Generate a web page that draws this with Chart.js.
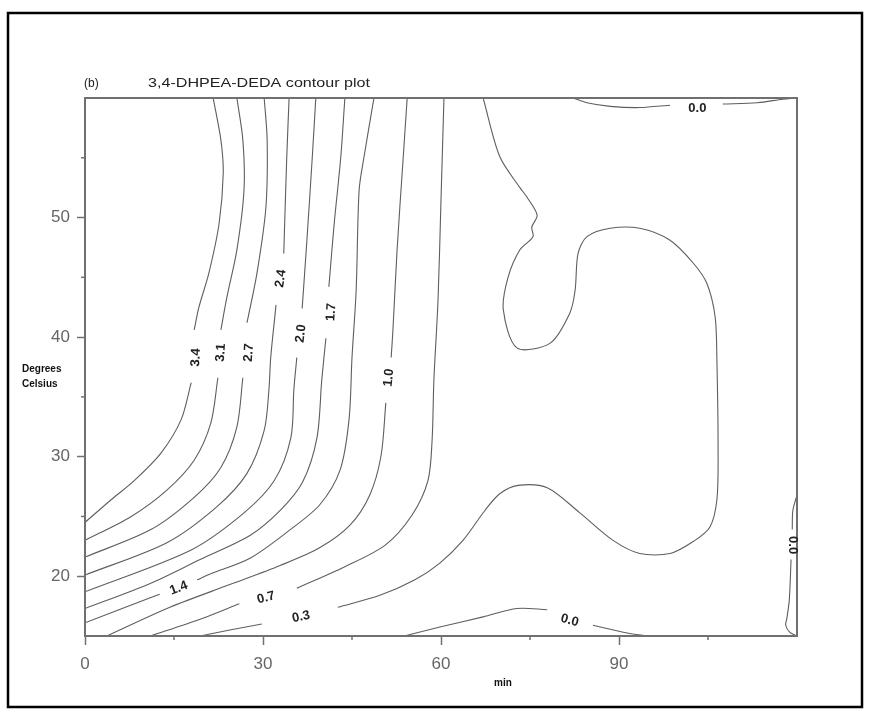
<!DOCTYPE html>
<html lang="en">
<head>
    <meta charset="UTF-8">
    <title>3,4-DHPEA-DEDA contour plot</title>
    <style>
        body, html {
            margin: 0;
            padding: 0;
            background-color: #ffffff;
        }
        #wrap {
            position: relative;
            width: 872px;
            height: 720px;
        }
    </style>
</head>
<body>
    <div id="wrap"><canvas id="contourChart" width="872" height="720"></canvas></div>

    <script src="https://cdn.jsdelivr.net/npm/chart.js"></script>
    <script>
        // contour lines, [min, degrees]; null = gap where the level label sits
        const c34 = [[21.6, 60], [22.9, 56.5], [23.3, 53.7], [22.6, 49.5], [20.9, 45.4], [19.2, 42.5], [18.4, 40.6], null,
            [17.9, 36.2], [16.2, 33.1], [12.8, 30.3], [8.3, 28.0], [4.4, 26.4], [0, 24.5]];
        const c31 = [[25.6, 60], [26.6, 56.5], [26.8, 52.3], [25.6, 47.3], [23.9, 43.3], [22.9, 40.6], null,
            [22.4, 36.6], [21.2, 32.8], [18.4, 29.7], [13.8, 27.2], [7.8, 25.0], [0, 23.0]];
        const c27 = [[30.2, 60], [30.7, 56.5], [30.5, 50.9], [29.0, 45.4], [27.3, 41.2], null,
            [26.6, 36.6], [25.6, 32.5], [22.9, 29.1], [18.4, 26.6], [11.1, 23.9], [0, 21.6]];
        const c24 = [[34.4, 60], [34.0, 55.0], [33.5, 47.0], null,
            [32.2, 42.7], [31.3, 38.3], [31.0, 35.6], [30.2, 32.2], [27.3, 28.6], [22.2, 25.8], [13.8, 22.8], [0, 20.1]];
        const c20 = [[38.9, 60], [38.3, 55.0], [37.4, 48.1], [36.6, 42.4], null,
            [35.7, 38.3], [35.2, 35.6], [34.7, 31.6], [31.9, 28.0], [26.8, 25.3], [17.9, 22.2], [0, 18.7]];
        const c17 = [[43.8, 60], [43.1, 55.0], [42.0, 49.5], [41.1, 44.2], null,
            [40.6, 39.9], [39.9, 36.4], [39.1, 31.6], [36.7, 27.9], [32.9, 25.5], [27.8, 23.4], [19.4, 21.4], [11.0, 19.4], [0, 17.3]];
        const c14 = [[48.7, 60], [47.0, 55.0], [46.2, 52.3], [45.7, 43.9], [45.0, 38.3], [44.5, 33.1], [43.0, 28.9],
            [39.6, 26.0], [34.6, 23.9], [27.8, 21.5], [21.2, 20.2], [18.9, 19.7], null,
            [12.6, 18.5], [11.0, 18.2], [0, 16.1]];
        const c10 = [[54.3, 60], [53.6, 54.8], [52.6, 47.3], [51.9, 40.6], [51.6, 38.3], null,
            [50.7, 34.5], [49.9, 30.1], [48.0, 26.8], [44.7, 24.3], [39.6, 22.4], [32.9, 20.9], [24.4, 19.3], [14.3, 17.4], [3.7, 15]];
        const c07 = [[60.5, 60], [60.0, 51.5], [59.5, 43.1], [58.8, 36.4], [58.5, 31.4], [57.8, 28.0], [55.1, 25.1],
            [50.6, 22.6], [43.8, 20.8], [35.7, 19.0], null,
            [26.0, 17.7], [19.4, 16.4], [11.0, 15]];
        const c03 = [[19.4, 15], [24.4, 15.5], [29.8, 16.0], null,
            [42.6, 17.4], [49.7, 18.4], [55.6, 19.7], [59.8, 21.1], [63.7, 23.0], [67.4, 25.5], [69.9, 26.9], [73.0, 27.6],
            [77.9, 27.4], [83.4, 25.3], [89.0, 23.0], [93.5, 21.9], [98.6, 21.9], [102.5, 22.9], [105.3, 24.1], [106.5, 26.4],
            [106.7, 30.6], [106.5, 38.1], [106.2, 41.7], [104.8, 44.5], [102.5, 46.2], [98.6, 48.1], [93.5, 49.1], [88.5, 49.1],
            [84.6, 48.4], [83.1, 47.0], [82.6, 43.9], [81.7, 42.0], [78.4, 39.5], [72.8, 39.1], [70.5, 42.3], [71.3, 45.0],
            [73.3, 47.3], [75.5, 48.4], [75.3, 49.2], [76.2, 50.2], [74.5, 51.7], [73.3, 52.5], [69.9, 55.1], [67.1, 60]];
        const c00bottom = [[53.8, 15], [59.8, 15.75], [67.1, 16.6], [72.8, 17.3], [77.9, 17.2], null,
            [85.6, 15.9], [91.4, 15.25], [94.7, 15]];
        const c00top = [[82.3, 60], [84.6, 59.6], [88.5, 59.3], [93.5, 59.2], [98.6, 59.4], null,
            [107.5, 59.5], [113.3, 59.6], [117.6, 59.9], [119.7, 60]];
        const c00right = [[120, 26.8], [119.3, 25.5], [119.2, 23.9], null,
            [119.0, 21.4], [118.7, 18.0], [118.3, 16.5], [118.1, 15.9], [118.8, 15.3], [120, 15]];

        const contours = [c34, c31, c27, c24, c20, c17, c14, c10, c07, c03, c00bottom, c00top, c00right];

        // level labels written on the lines
        const labelText = ['3.4', '3.1', '2.7', '2.4', '2.0', '1.7', '1.0', '1.4', '0.7', '0.3', '0.0', '0.0', '0.0'];
        const labelX = [18.7, 22.9, 27.6, 33.0, 36.4, 41.5, 51.2, 15.8, 30.5, 36.4, 81.7, 103.2, 119.3];
        const labelY = [38.3, 38.7, 38.7, 44.9, 40.3, 42.1, 36.6, 19.0, 18.2, 16.6, 16.3, 59.15, 22.6];
        const labelAngle = [-87, -86, -86, -81, -84, -87, -84, -21, -15, -12, 15, 0, 90];

        // axes
        const xTickLabels = [0, 30, 60, 90];
        const yTickLabels = [20, 30, 40, 50];
        const xMinor = [15, 45, 75, 105];
        const yMinor = [25, 35, 45, 55];

        const fontFamily = '"Liberation Sans", Arial, sans-serif';

        // split every contour at its gaps, one dataset per piece
        const datasets = [];
        contours.forEach(line => {
            let piece = [];
            line.concat([null]).forEach(p => {
                if (p) {
                    piece.push({ x: p[0], y: p[1] });
                } else if (piece.length) {
                    datasets.push({
                        data: piece,
                        showLine: true,
                        borderColor: '#5e5e5e',
                        borderWidth: 1.1,
                        pointRadius: 0,
                        tension: 0.3,
                        fill: false
                    });
                    piece = [];
                }
            });
        });

        const decorations = {
            id: 'decorations',
            beforeDraw(chart) {
                const ctx = chart.ctx;
                ctx.save();
                ctx.fillStyle = '#ffffff';
                ctx.fillRect(0, 0, chart.width, chart.height);
                ctx.restore();
            },
            afterDraw(chart) {
                const ctx = chart.ctx;
                const a = chart.chartArea;
                const x = chart.scales.x;
                const y = chart.scales.y;
                ctx.save();

                // plot frame
                ctx.strokeStyle = '#707070';
                ctx.lineWidth = 2;
                ctx.strokeRect(a.left, a.top, a.right - a.left, a.bottom - a.top);

                // short minor ticks
                ctx.lineWidth = 1.5;
                xMinor.forEach(v => {
                    const px = x.getPixelForValue(v);
                    ctx.beginPath();
                    ctx.moveTo(px, a.bottom);
                    ctx.lineTo(px, a.bottom + 4);
                    ctx.stroke();
                });
                yMinor.forEach(v => {
                    const py = y.getPixelForValue(v);
                    ctx.beginPath();
                    ctx.moveTo(a.left, py);
                    ctx.lineTo(a.left - 4, py);
                    ctx.stroke();
                });

                // contour level labels
                ctx.fillStyle = '#222222';
                ctx.font = 'bold 13px ' + fontFamily;
                ctx.textAlign = 'center';
                ctx.textBaseline = 'middle';
                labelText.forEach((t, i) => {
                    ctx.save();
                    ctx.translate(x.getPixelForValue(labelX[i]), y.getPixelForValue(labelY[i]));
                    ctx.rotate(labelAngle[i] * Math.PI / 180);
                    ctx.fillText(t, 0, 0);
                    ctx.restore();
                });

                // title, stretched a little like the original
                ctx.fillStyle = '#222222';
                ctx.textAlign = 'left';
                ctx.font = '12px ' + fontFamily;
                ctx.fillText('(b)', a.left - 1, a.top - 14);
                const title = '3,4-DHPEA-DEDA contour plot';
                const sx = 222 / ctx.measureText(title).width;
                ctx.save();
                ctx.translate(148, a.top - 14);
                ctx.scale(sx, 1);
                ctx.fillText(title, 0, 0);
                ctx.restore();

                // axis titles
                ctx.fillStyle = '#111111';
                ctx.font = 'bold 10px ' + fontFamily;
                ctx.fillText('Degrees', 22, 369);
                ctx.fillText('Celsius', 22, 384);
                ctx.textAlign = 'center';
                ctx.fillText('min', 503, 683);

                // outer frame
                ctx.strokeStyle = '#000000';
                ctx.lineWidth = 2.5;
                ctx.strokeRect(8, 13, 854, 694);
                ctx.restore();
            }
        };

        const contourChart = new Chart(document.getElementById('contourChart').getContext('2d'), {
            type: 'scatter',
            data: { datasets: datasets },
            options: {
                responsive: false,
                animation: false,
                events: [],
                layout: { padding: { top: 98, right: 75, left: 0, bottom: 0 } },
                plugins: {
                    legend: { display: false },
                    tooltip: { enabled: false },
                    title: { display: false }
                },
                scales: {
                    x: {
                        type: 'linear',
                        min: 0,
                        max: 120,
                        border: { display: false },
                        grid: {
                            drawOnChartArea: false,
                            drawTicks: true,
                            tickLength: 9,
                            tickWidth: 1.5,
                            tickColor: c => xTickLabels.includes(c.tick.value) ? '#707070' : 'rgba(0,0,0,0)'
                        },
                        ticks: {
                            stepSize: 15,
                            autoSkip: false,
                            maxRotation: 0,
                            padding: 9,
                            color: '#666666',
                            font: { size: 17, family: fontFamily },
                            callback: v => xTickLabels.includes(v) ? String(v) : ''
                        },
                        afterFit(scale) { scale.height = 84; }
                    },
                    y: {
                        type: 'linear',
                        min: 15,
                        max: 60,
                        border: { display: false },
                        grid: {
                            drawOnChartArea: false,
                            drawTicks: true,
                            tickLength: 8,
                            tickWidth: 1.5,
                            tickColor: c => yTickLabels.includes(c.tick.value) ? '#707070' : 'rgba(0,0,0,0)'
                        },
                        ticks: {
                            stepSize: 5,
                            autoSkip: false,
                            padding: 7,
                            color: '#666666',
                            font: { size: 17, family: fontFamily },
                            callback: v => yTickLabels.includes(v) ? String(v) : ''
                        },
                        afterFit(scale) { scale.width = 85; }
                    }
                }
            },
            plugins: [decorations]
        });
    </script>
</body>
</html>
